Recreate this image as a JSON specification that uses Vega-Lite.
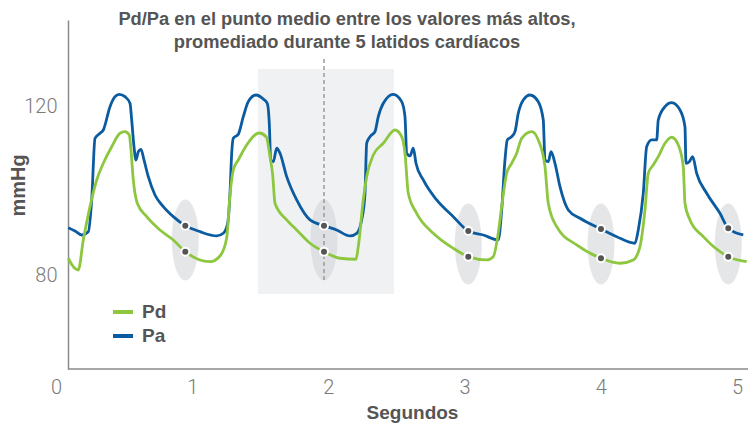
{
  "$schema": "https://vega.github.io/schema/vega-lite/v6.json",
  "width": 692,
  "height": 349,
  "autosize": {"type": "none"},
  "padding": {"left": 56, "top": 20, "right": 0, "bottom": 54},
  "background": "white",
  "title": {
    "text": ["Pd/Pa en el punto medio entre los valores más altos,", "promediado durante 5 latidos cardíacos"],
    "font": "Liberation Sans",
    "fontSize": 18.3,
    "fontWeight": "bold",
    "color": "#555555",
    "anchor": "middle",
    "dx": -55,
    "lineHeight": 23,
    "offset": -32
  },
  "config": {"view": {"stroke": null}, "font": "Liberation Sans"},
  "datasets": {
    "curves": [
      {"t":0.0903,"p":91.30,"s":"Pa"},{"t":0.1395,"p":90.52,"s":"Pa"},{"t":0.1887,"p":89.57,"s":"Pa"},{"t":0.2372,"p":90.35,"s":"Pa"},{"t":0.2621,"p":97.84,"s":"Pa"},{"t":0.2863,"p":112.42,"s":"Pa"},{"t":0.3231,"p":113.60,"s":"Pa"},{"t":0.3473,"p":114.38,"s":"Pa"},{"t":0.3965,"p":119.89,"s":"Pa"},{"t":0.4332,"p":122.25,"s":"Pa"},{"t":0.4648,"p":122.81,"s":"Pa"},{"t":0.5066,"p":122.25,"s":"Pa"},{"t":0.5433,"p":120.69,"s":"Pa"},{"t":0.5558,"p":116.74,"s":"Pa"},{"t":0.5727,"p":110.43,"s":"Pa"},{"t":0.5874,"p":107.29,"s":"Pa"},{"t":0.6043,"p":109.25,"s":"Pa"},{"t":0.6241,"p":109.82,"s":"Pa"},{"t":0.6461,"p":107.29,"s":"Pa"},{"t":0.6777,"p":103.35,"s":"Pa"},{"t":0.7269,"p":99.02,"s":"Pa"},{"t":0.7878,"p":96.26,"s":"Pa"},{"t":0.8612,"p":93.90,"s":"Pa"},{"t":0.9493,"p":91.77,"s":"Pa"},{"t":1.0573,"p":90.35,"s":"Pa"},{"t":1.1799,"p":89.34,"s":"Pa"},{"t":1.2283,"p":89.97,"s":"Pa"},{"t":1.2606,"p":92.34,"s":"Pa"},{"t":1.2775,"p":99.42,"s":"Pa"},{"t":1.2900,"p":108.88,"s":"Pa"},{"t":1.3018,"p":112.42,"s":"Pa"},{"t":1.3385,"p":113.36,"s":"Pa"},{"t":1.3752,"p":117.52,"s":"Pa"},{"t":1.4119,"p":121.07,"s":"Pa"},{"t":1.4684,"p":122.65,"s":"Pa"},{"t":1.5220,"p":121.70,"s":"Pa"},{"t":1.5514,"p":120.69,"s":"Pa"},{"t":1.5661,"p":115.96,"s":"Pa"},{"t":1.5764,"p":107.29,"s":"Pa"},{"t":1.5954,"p":106.89,"s":"Pa"},{"t":1.6204,"p":110.06,"s":"Pa"},{"t":1.6446,"p":108.88,"s":"Pa"},{"t":1.6938,"p":103.35,"s":"Pa"},{"t":1.7673,"p":97.84,"s":"Pa"},{"t":1.8649,"p":93.12,"s":"Pa"},{"t":1.9677,"p":91.77,"s":"Pa"},{"t":2.0609,"p":90.75,"s":"Pa"},{"t":2.1586,"p":89.34,"s":"Pa"},{"t":2.2078,"p":89.97,"s":"Pa"},{"t":2.2445,"p":93.12,"s":"Pa"},{"t":2.2687,"p":99.42,"s":"Pa"},{"t":2.2812,"p":111.24,"s":"Pa"},{"t":2.3054,"p":112.80,"s":"Pa"},{"t":2.3421,"p":113.98,"s":"Pa"},{"t":2.3664,"p":117.52,"s":"Pa"},{"t":2.4031,"p":120.69,"s":"Pa"},{"t":2.4765,"p":122.81,"s":"Pa"},{"t":2.5382,"p":121.07,"s":"Pa"},{"t":2.5624,"p":117.52,"s":"Pa"},{"t":2.5749,"p":108.88,"s":"Pa"},{"t":2.5991,"p":108.24,"s":"Pa"},{"t":2.6233,"p":110.06,"s":"Pa"},{"t":2.6432,"p":106.51,"s":"Pa"},{"t":2.6968,"p":102.57,"s":"Pa"},{"t":2.7952,"p":97.84,"s":"Pa"},{"t":2.9170,"p":93.90,"s":"Pa"},{"t":3.0272,"p":90.52,"s":"Pa"},{"t":3.1373,"p":89.57,"s":"Pa"},{"t":3.2474,"p":88.39,"s":"Pa"},{"t":3.2724,"p":95.48,"s":"Pa"},{"t":3.2966,"p":107.29,"s":"Pa"},{"t":3.3135,"p":112.02,"s":"Pa"},{"t":3.3458,"p":112.80,"s":"Pa"},{"t":3.3700,"p":113.98,"s":"Pa"},{"t":3.3943,"p":118.33,"s":"Pa"},{"t":3.4310,"p":121.47,"s":"Pa"},{"t":3.4802,"p":122.65,"s":"Pa"},{"t":3.5411,"p":121.07,"s":"Pa"},{"t":3.5778,"p":116.74,"s":"Pa"},{"t":3.5903,"p":107.29,"s":"Pa"},{"t":3.6145,"p":106.89,"s":"Pa"},{"t":3.6344,"p":109.25,"s":"Pa"},{"t":3.6637,"p":106.51,"s":"Pa"},{"t":3.7004,"p":100.98,"s":"Pa"},{"t":3.7614,"p":95.48,"s":"Pa"},{"t":3.8473,"p":93.52,"s":"Pa"},{"t":4.0015,"p":90.99,"s":"Pa"},{"t":4.1167,"p":89.17,"s":"Pa"},{"t":4.2511,"p":87.61,"s":"Pa"},{"t":4.2753,"p":90.75,"s":"Pa"},{"t":4.3120,"p":99.42,"s":"Pa"},{"t":4.3370,"p":110.43,"s":"Pa"},{"t":4.3737,"p":112.02,"s":"Pa"},{"t":4.4104,"p":112.02,"s":"Pa"},{"t":4.4222,"p":116.74,"s":"Pa"},{"t":4.4714,"p":119.89,"s":"Pa"},{"t":4.5206,"p":120.83,"s":"Pa"},{"t":4.5815,"p":119.11,"s":"Pa"},{"t":4.6182,"p":115.16,"s":"Pa"},{"t":4.6256,"p":106.51,"s":"Pa"},{"t":4.6498,"p":106.89,"s":"Pa"},{"t":4.6747,"p":108.07,"s":"Pa"},{"t":4.7041,"p":104.15,"s":"Pa"},{"t":4.7775,"p":99.42,"s":"Pa"},{"t":4.8751,"p":94.70,"s":"Pa"},{"t":4.9361,"p":91.16,"s":"Pa"},{"t":5.0463,"p":89.57,"s":"Pa"},
      {"t":0.0903,"p":84.07,"s":"Pd"},{"t":0.1270,"p":82.08,"s":"Pd"},{"t":0.1637,"p":81.30,"s":"Pd"},{"t":0.2004,"p":88.39,"s":"Pd"},{"t":0.2496,"p":96.26,"s":"Pd"},{"t":0.2988,"p":102.57,"s":"Pd"},{"t":0.3473,"p":106.51,"s":"Pd"},{"t":0.4090,"p":110.43,"s":"Pd"},{"t":0.4699,"p":113.60,"s":"Pd"},{"t":0.5066,"p":113.98,"s":"Pd"},{"t":0.5382,"p":113.20,"s":"Pd"},{"t":0.5485,"p":110.43,"s":"Pd"},{"t":0.5675,"p":102.57,"s":"Pd"},{"t":0.5969,"p":97.06,"s":"Pd"},{"t":0.6659,"p":93.90,"s":"Pd"},{"t":0.7636,"p":90.75,"s":"Pd"},{"t":0.8612,"p":88.39,"s":"Pd"},{"t":0.9493,"p":85.63,"s":"Pd"},{"t":1.1307,"p":83.26,"s":"Pd"},{"t":1.2041,"p":84.61,"s":"Pd"},{"t":1.2533,"p":88.86,"s":"Pd"},{"t":1.2775,"p":99.02,"s":"Pd"},{"t":1.3018,"p":104.93,"s":"Pd"},{"t":1.3385,"p":107.29,"s":"Pd"},{"t":1.4001,"p":110.84,"s":"Pd"},{"t":1.4927,"p":113.67,"s":"Pd"},{"t":1.5441,"p":112.73,"s":"Pd"},{"t":1.5712,"p":108.07,"s":"Pd"},{"t":1.5910,"p":103.75,"s":"Pd"},{"t":1.6079,"p":97.06,"s":"Pd"},{"t":1.6938,"p":93.12,"s":"Pd"},{"t":1.7673,"p":90.75,"s":"Pd"},{"t":1.8649,"p":87.61,"s":"Pd"},{"t":1.9677,"p":85.63,"s":"Pd"},{"t":2.0852,"p":84.07,"s":"Pd"},{"t":2.2026,"p":83.83,"s":"Pd"},{"t":2.2195,"p":86.81,"s":"Pd"},{"t":2.2562,"p":97.84,"s":"Pd"},{"t":2.2812,"p":103.35,"s":"Pd"},{"t":2.3297,"p":108.47,"s":"Pd"},{"t":2.4031,"p":111.24,"s":"Pd"},{"t":2.4890,"p":114.38,"s":"Pd"},{"t":2.5382,"p":112.80,"s":"Pd"},{"t":2.5624,"p":108.88,"s":"Pd"},{"t":2.5866,"p":99.42,"s":"Pd"},{"t":2.6483,"p":94.70,"s":"Pd"},{"t":2.7702,"p":89.97,"s":"Pd"},{"t":2.9170,"p":86.43,"s":"Pd"},{"t":3.0272,"p":84.45,"s":"Pd"},{"t":3.1623,"p":83.67,"s":"Pd"},{"t":3.2107,"p":84.45,"s":"Pd"},{"t":3.2452,"p":89.57,"s":"Pd"},{"t":3.2724,"p":96.26,"s":"Pd"},{"t":3.3091,"p":104.15,"s":"Pd"},{"t":3.3458,"p":106.51,"s":"Pd"},{"t":3.3825,"p":108.88,"s":"Pd"},{"t":3.4192,"p":112.42,"s":"Pd"},{"t":3.4927,"p":113.98,"s":"Pd"},{"t":3.5411,"p":112.02,"s":"Pd"},{"t":3.5903,"p":105.71,"s":"Pd"},{"t":3.6145,"p":97.06,"s":"Pd"},{"t":3.6762,"p":91.53,"s":"Pd"},{"t":3.8231,"p":87.21,"s":"Pd"},{"t":4.0015,"p":84.07,"s":"Pd"},{"t":4.1410,"p":82.89,"s":"Pd"},{"t":4.2386,"p":83.67,"s":"Pd"},{"t":4.2878,"p":86.81,"s":"Pd"},{"t":4.3245,"p":95.48,"s":"Pd"},{"t":4.3487,"p":104.15,"s":"Pd"},{"t":4.3855,"p":106.11,"s":"Pd"},{"t":4.4222,"p":108.07,"s":"Pd"},{"t":4.4714,"p":111.24,"s":"Pd"},{"t":4.5206,"p":112.66,"s":"Pd"},{"t":4.5690,"p":110.84,"s":"Pd"},{"t":4.6057,"p":105.71,"s":"Pd"},{"t":4.6182,"p":97.06,"s":"Pd"},{"t":4.6549,"p":93.12,"s":"Pd"},{"t":4.7526,"p":89.17,"s":"Pd"},{"t":4.9361,"p":84.45,"s":"Pd"},{"t":5.0712,"p":83.26,"s":"Pd"}
    ],
    "markers": [
      {"t":0.9493,"Pa":91.77,"Pd":85.63,"c":88.39},
      {"t":1.9677,"Pa":91.77,"Pd":85.63,"c":88.39},
      {"t":3.0272,"Pa":90.52,"Pd":84.45,"c":87.45},
      {"t":4.0015,"Pa":90.99,"Pd":84.07,"c":87.45},
      {"t":4.9361,"Pa":91.16,"Pd":84.45,"c":87.45}
    ]
  },
  "layer": [
    {
      "data": {"values": [{"start": 1.483, "end": 2.482, "lo": 75.63, "hi": 128.79}]},
      "mark": {"type": "rect", "color": "#f0f1f3"},
      "encoding": {
        "x": {"field": "start", "type": "quantitative"},
        "x2": {"field": "end"},
        "y": {"field": "lo", "type": "quantitative"},
        "y2": {"field": "hi"}
      }
    },
    {
      "data": {"name": "markers"},
      "mark": {"type": "point", "shape": "M-0.333,0A0.333,1,0,1,1,0.333,0A0.333,1,0,1,1,-0.333,0Z", "size": 6561, "filled": true, "color": "#d4d6d9", "opacity": 0.6},
      "encoding": {
        "x": {"field": "t", "type": "quantitative"},
        "y": {"field": "c", "type": "quantitative"}
      }
    },
    {
      "data": {"values": [{"t": 1.9677, "lo": 78.94, "hi": 131.39}]},
      "mark": {"type": "rule", "color": "#9a9a9a", "strokeDash": [4, 3], "strokeWidth": 1.5},
      "encoding": {
        "x": {"field": "t", "type": "quantitative"},
        "y": {"field": "lo", "type": "quantitative"},
        "y2": {"field": "hi"}
      }
    },
    {
      "data": {"name": "curves"},
      "mark": {"type": "line", "strokeWidth": 2.8, "interpolate": "monotone"},
      "encoding": {
        "x": {
          "field": "t", "type": "quantitative",
          "scale": {"domain": [0, 5.081], "nice": false, "zero": false},
          "axis": {
            "values": [0, 1, 2, 3, 4, 5], "format": "d", "domain": false, "ticks": false, "grid": false,
            "labelFontSize": 20, "labelColor": "#7a7a7a", "labelFont": "Roboto", "labelFontWeight": 300,
            "labelPadding": 8, "labelFlush": false, "labelOverlap": false, "labelBound": false,
            "title": "Segundos", "titleFont": "Liberation Sans", "titleFontSize": 19, "titleFontWeight": "bold", "titleColor": "#555555",
            "titleX": 356, "titleY": 43, "titleBaseline": "middle", "titleAlign": "center"
          }
        },
        "y": {
          "field": "p", "type": "quantitative",
          "scale": {"domain": [57.9, 140.37], "nice": false, "zero": false},
          "axis": {
            "values": [80, 120], "format": "d", "offset": -12, "ticks": false, "grid": false,
            "domainColor": "#8a8a8a", "domainWidth": 1.5,
            "labelFontSize": 20, "labelColor": "#7a7a7a", "labelFont": "Roboto", "labelFontWeight": 300, "labelPadding": 11,
            "title": "mmHg", "titleFont": "Liberation Sans", "titleFontSize": 20, "titleFontWeight": "bold", "titleColor": "#555555",
            "titleX": -50, "titleY": 165, "titleAngle": -90, "titleAlign": "center", "titleBaseline": "middle"
          }
        },
        "color": {
          "field": "s", "type": "nominal",
          "scale": {"domain": ["Pd", "Pa"], "range": ["#8dc63f", "#0b5ba1"]},
          "legend": {
            "orient": "none", "legendX": 55, "legendY": 280, "title": null, "padding": 0,
            "symbolType": "stroke", "symbolStrokeWidth": 4, "symbolSize": 400,
            "labelFont": "Liberation Sans", "labelFontSize": 19, "labelFontWeight": "bold", "labelColor": "#555555",
            "labelOffset": 7, "rowPadding": 2
          }
        }
      }
    },
    {
      "data": {"name": "markers"},
      "transform": [{"fold": ["Pa", "Pd"], "as": ["serie", "valor"]}],
      "mark": {"type": "point", "shape": "circle", "filled": true, "size": 64, "fill": "#555555", "stroke": "white", "strokeWidth": 2, "opacity": 1},
      "encoding": {
        "x": {"field": "t", "type": "quantitative"},
        "y": {"field": "valor", "type": "quantitative"}
      }
    },
    {
      "data": {"values": [{"from": 0.088, "to": 5.081, "base": 57.9}]},
      "mark": {"type": "rule", "color": "#8a8a8a", "strokeWidth": 1.5},
      "encoding": {
        "x": {"field": "from", "type": "quantitative"},
        "x2": {"field": "to"},
        "y": {"field": "base", "type": "quantitative"}
      }
    }
  ]
}
